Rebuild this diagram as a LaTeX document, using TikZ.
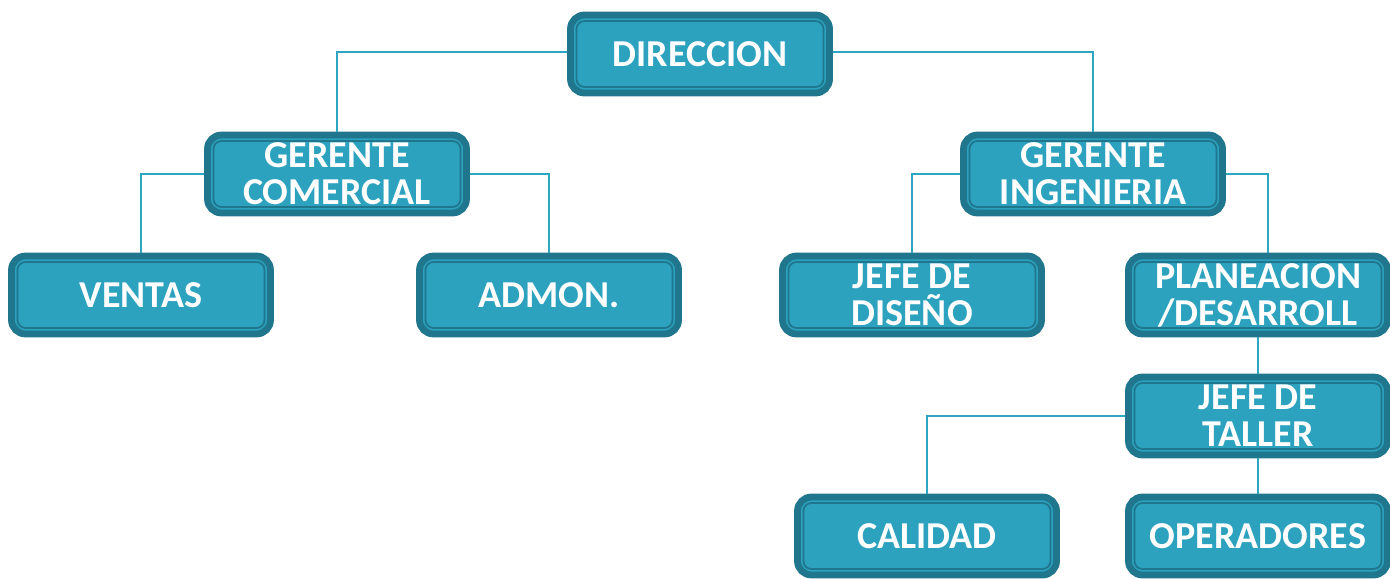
\documentclass[tikz,border=0pt]{standalone}
\usepackage{fontspec}
\setmainfont{Carlito}
\usetikzlibrary{calc}
\definecolor{unitfill}{HTML}{2CA2BF}
\definecolor{unitdark}{HTML}{20778D}
\definecolor{linkcol}{HTML}{2EA6C2}
\tikzset{
  font=\fontsize{19}{18.5}\selectfont\bfseries,
  unit/.style = {
    rectangle,
    rounded corners=7pt,
    fill=unitfill,
    draw=unitdark,
    line width=3.4pt,
    minimum width=129.5pt,
    minimum height=39pt,
    inner sep=0pt,
    align=center,
    text=white,
    path picture={
      \draw[unitdark, line width=0.9pt, rounded corners=4pt]
        ([shift={(3pt,-3pt)}]path picture bounding box.north west)
        rectangle ([shift={(-3pt,3pt)}]path picture bounding box.south east);
    }
  },
  link/.style = {
    draw=linkcol,
    line width=0.8pt
  }
}

\begin{document}
\begin{tikzpicture}[x=0.5pt,y=-0.5pt]

      \useasboundingbox (0,0) rectangle (1390,578);

      \node[unit] (dir) at (700,54) {DIRECCION};
      \node[unit] (gc) at (337,174) {GERENTE\\COMERCIAL};
      \node[unit] (gi) at (1093,174) {GERENTE\\INGENIERIA};
      \node[unit] (ventas) at (141,295) {VENTAS};
      \node[unit] (admon) at (549,295) {ADMON.};
      \node[unit] (diseno) at (912,295) {JEFE DE\\DISEÑO};
      \node[unit] (plan) at (1258,295) {PLANEACION\\/DESARROLL};
      \node[unit] (taller) at (1258,416) {JEFE DE\\TALLER};
      \node[unit] (calidad) at (927,536) {CALIDAD};
      \node[unit] (oper) at (1258,536) {OPERADORES};

      \begin{scope}[on background layer/.try]
        \draw[link] ([yshift=1pt]dir.west) -| (gc.north);
        \draw[link] ([yshift=1pt]dir.east) -| (gi.north);
        \draw[link] (gc.west) -| (ventas.north);
        \draw[link] (gc.east) -| (admon.north);
        \draw[link] (gi.west) -| (diseno.north);
        \draw[link] (gi.east) -| ([xshift=5pt]plan.north);
        \draw[link] (plan.south) -- (taller.north);
        \draw[link] (taller.west) -| (calidad.north);
        \draw[link] (taller.south) -- (oper.north);
      \end{scope}
    \end{tikzpicture}
\end{document}
